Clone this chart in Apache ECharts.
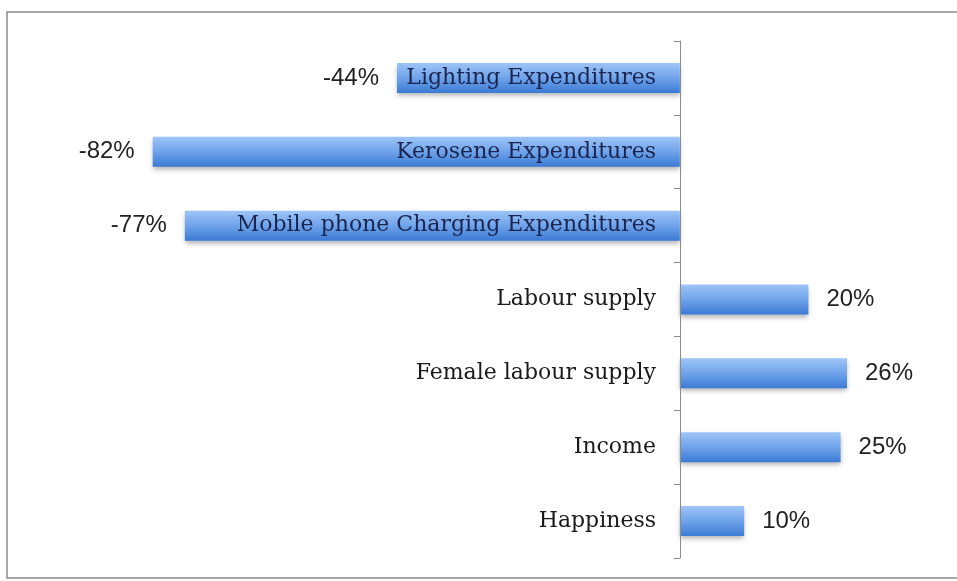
<!DOCTYPE html>
<html>
<head>
<meta charset="utf-8">
<script src="https://cdn.jsdelivr.net/npm/echarts@6/dist/echarts.min.js"></script>
<style>
  html, body { margin: 0; padding: 0; background: #fff; }
  #chart { width: 957px; height: 581px; }
</style>
</head>
<body>
<div id="chart"></div>
<script>
  // top to bottom as in the picture
  var categories = ['Lighting Expenditures', 'Kerosene Expenditures', 'Mobile phone Charging Expenditures',
    'Labour supply', 'Female labour supply', 'Income', 'Happiness'];
  var values = [-44, -82, -77, 20, 26, 25, 10];

  var myChart = echarts.init(document.getElementById('chart'));

  var barData = values.map(function (v) {
    return {
      value: v,
      label: { position: v < 0 ? 'left' : 'right' }
    };
  });

  var option = {
    backgroundColor: '#fff',
    animation: false,
    graphic: [{
      type: 'rect',
      shape: { x: 7, y: 12, width: 1000, height: 566 },
      style: { fill: 'none', stroke: '#8a8a8a', lineWidth: 1.5 },
      z: 0
    }],
    grid: { left: 37, right: 20, top: 41, bottom: 23, containLabel: false, outerBoundsMode: 'none' },
    xAxis: {
      type: 'value',
      min: -100,
      max: 40,
      show: false
    },
    yAxis: {
      type: 'category',
      data: categories,
      inverse: true,
      z: 10,
      // sit the axis on the zero line (zero is 100/140 of the grid width from the left)
      offset: -643,
      axisLine: { show: true, onZero: false, lineStyle: { color: '#8c8c8c', width: 1 } },
      axisTick: { show: true, length: 6, lineStyle: { color: '#8c8c8c' } },
      axisLabel: {
        margin: 24,
        fontFamily: 'DejaVu Serif',
        fontSize: 22,
        color: '#1a1a1a',
        formatter: function (val, i) {
          return values[i] < 0 ? '{neg|' + val + '}' : val;
        },
        rich: {
          neg: { fontFamily: 'DejaVu Serif', fontSize: 22, color: '#1b2550' }
        }
      }
    },
    series: [{
      type: 'bar',
      data: barData,
      barWidth: 30,
      itemStyle: {
        color: new echarts.graphic.LinearGradient(0, 0, 0, 1, [
          { offset: 0, color: '#9ec5f7' },
          { offset: 0.5, color: '#6fa3ea' },
          { offset: 1, color: '#3b7bd4' }
        ]),
        shadowColor: 'rgba(0,0,0,0.3)',
        shadowBlur: 5,
        shadowOffsetY: 3
      },
      label: {
        show: true,
        distance: 18,
        fontFamily: 'Liberation Sans',
        fontSize: 24,
        color: '#222',
        formatter: function (p) { return p.value + '%'; }
      }
    }]
  };

  myChart.setOption(option);
</script>
</body>
</html>
